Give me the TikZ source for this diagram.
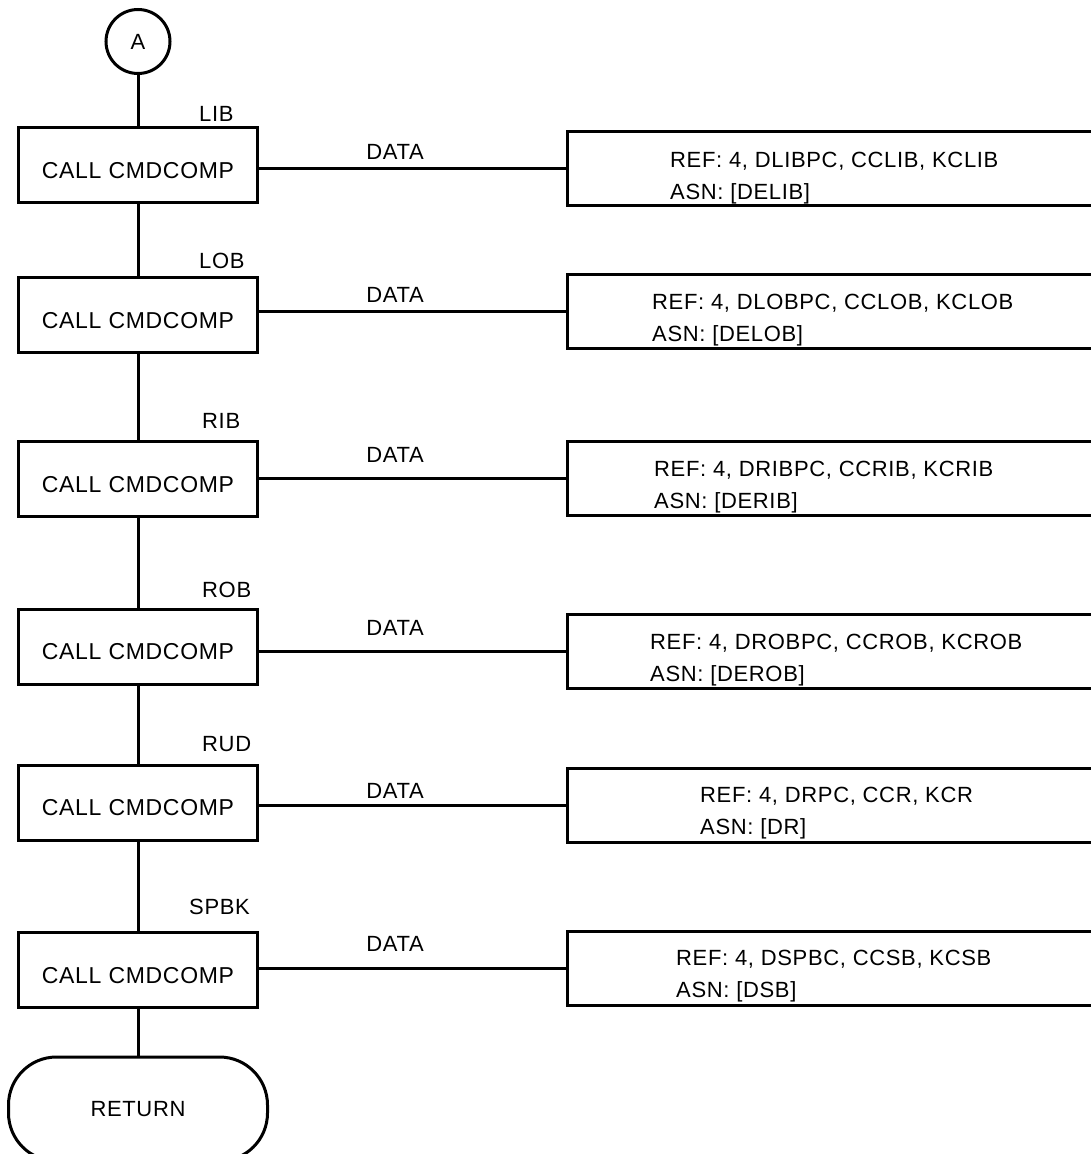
\documentclass[tikz,border=0pt]{standalone}
\usepackage{fontspec}
\setmainfont[LetterSpace=3]{Liberation Sans}
\begin{document}
\begin{tikzpicture}[x=1pt,y=-1pt,
  every node/.style={inner sep=0pt, text=black},
  wire/.style={line width=3pt, black},
  procbox/.style={draw, line width=3pt, minimum width=239pt, minimum height=75pt,
    font=\fontsize{23}{27}\selectfont, text height=26pt, text depth=0pt},
  databox/.style={draw, line width=3pt, minimum width=563pt, minimum height=74pt},
  conn/.style={draw, circle, line width=3pt, minimum size=64pt, font=\fontsize{22}{26}\selectfont},
  term/.style={draw, line width=3pt, rounded corners=48pt, minimum width=259pt, minimum height=104pt,
    font=\fontsize{22}{26}\selectfont},
  tag/.style={anchor=west, font=\fontsize{22}{26}\selectfont},
  flowlbl/.style={font=\fontsize{22}{26}\selectfont},
  reftxt/.style={anchor=north west, align=left, font=\fontsize{22}{32.5}\selectfont}]
\useasboundingbox (0,0) rectangle (1091,1154);
\clip (0,0) rectangle (1091,1154);

% start connector
\node[conn] (A) at (138,41.5) {A};

% process boxes
\node[procbox] (c1) at (138,165) {CALL CMDCOMP};
\node[procbox] (c2) at (138,315) {CALL CMDCOMP};
\node[procbox] (c3) at (138,479) {CALL CMDCOMP};
\node[procbox] (c4) at (138,646.5) {CALL CMDCOMP};
\node[procbox] (c5) at (138,802.5) {CALL CMDCOMP};
\node[procbox] (c6) at (138,970) {CALL CMDCOMP};

% terminal
\node[term] (ret) at (138,1109) {RETURN};

% labels above boxes
\node[tag] (l1) at (199,113.5) {LIB};
\node[tag] (l2) at (199,260.5) {LOB};
\node[tag] (l3) at (202,420.5) {RIB};
\node[tag] (l4) at (202,590) {ROB};
\node[tag] (l5) at (202,744) {RUD};
\node[tag] (l6) at (189,907) {SPBK};

% data boxes
\node[databox] (r1) at (848.5,168.5) {};
\node[databox] (r2) at (848.5,311) {};
\node[databox] (r3) at (848.5,478) {};
\node[databox] (r4) at (848.5,651.5) {};
\node[databox] (r5) at (848.5,805) {};
\node[databox] (r6) at (848.5,968) {};

% data box texts
\node[reftxt] (t1) at (670,151.5) {REF: 4, DLIBPC, CCLIB, KCLIB\\ASN: [DELIB]};
\node[reftxt] (t2) at (652,293.5) {REF: 4, DLOBPC, CCLOB, KCLOB\\ASN: [DELOB]};
\node[reftxt] (t3) at (654,460.5) {REF: 4, DRIBPC, CCRIB, KCRIB\\ASN: [DERIB]};
\node[reftxt] (t4) at (650,633.5) {REF: 4, DROBPC, CCROB, KCROB\\ASN: [DEROB]};
\node[reftxt] (t5) at (700,786.5) {REF: 4, DRPC, CCR, KCR\\ASN: [DR]};
\node[reftxt] (t6) at (676,949.5) {REF: 4, DSPBC, CCSB, KCSB\\ASN: [DSB]};

% DATA labels
\node[flowlbl] (d1) at (395,152) {DATA};
\node[flowlbl] (d2) at (395,295) {DATA};
\node[flowlbl] (d3) at (395,455) {DATA};
\node[flowlbl] (d4) at (395,628) {DATA};
\node[flowlbl] (d5) at (395,791) {DATA};
\node[flowlbl] (d6) at (395,944) {DATA};

% vertical flow
\draw[wire] (A) -- (c1);
\draw[wire] (c1) -- (c2);
\draw[wire] (c2) -- (c3);
\draw[wire] (c3) -- (c4);
\draw[wire] (c4) -- (c5);
\draw[wire] (c5) -- (c6);
\draw[wire] (c6) -- (ret);

% horizontal data links
\draw[wire] (c1.east |- r1.west) -- (r1.west);
\draw[wire] (c2.east |- r2.west) -- (r2.west);
\draw[wire] (c3.east |- r3.west) -- (r3.west);
\draw[wire] (c4.east |- r4.west) -- (r4.west);
\draw[wire] (c5.east |- r5.west) -- (r5.west);
\draw[wire] (c6.east |- r6.west) -- (r6.west);
\end{tikzpicture}
\end{document}
